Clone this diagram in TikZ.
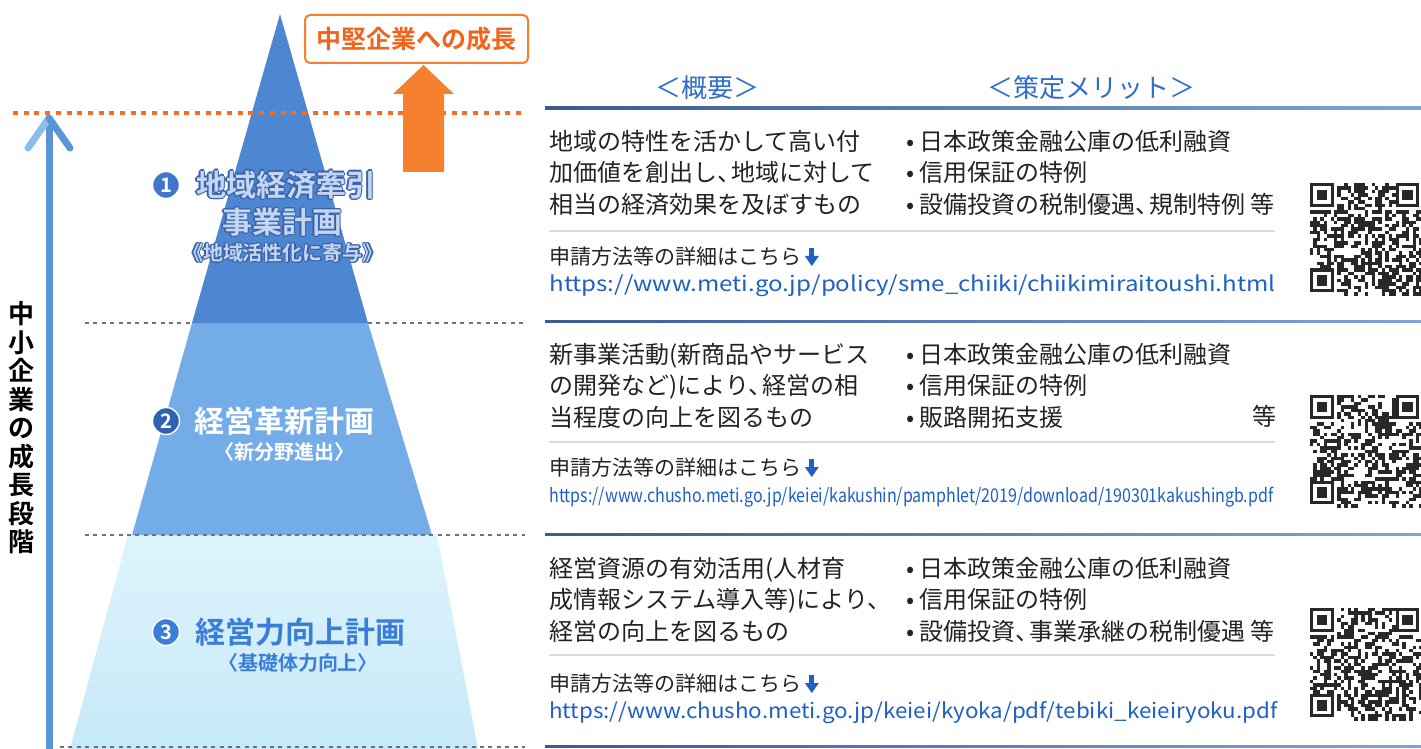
\documentclass[tikz,border=0pt]{standalone}
\usepackage{fontspec}
\usepackage{graphicx}
\setmainfont{Noto Sans CJK JP}[BoldFont={Noto Sans CJK JP Bold}]
\usetikzlibrary{calc}
\definecolor{topblue}{RGB}{77,135,210}
\definecolor{midblue}{RGB}{116,172,232}
\definecolor{lowblueA}{RGB}{222,244,252}
\definecolor{lowblueB}{RGB}{198,233,248}
\definecolor{orng}{RGB}{245,128,45}
\definecolor{orngtxt}{RGB}{240,100,30}
\definecolor{orngdot}{RGB}{240,110,40}
\definecolor{hdrblue}{RGB}{47,111,201}
\definecolor{urlblue}{RGB}{30,96,196}
\definecolor{txt}{RGB}{35,35,35}
\definecolor{lineL}{RGB}{60,90,150}
\definecolor{lineR}{RGB}{125,165,218}
\definecolor{lbl1}{RGB}{196,214,242}
\definecolor{outl}{RGB}{58,98,168}
\definecolor{lbl3}{RGB}{59,126,216}
\definecolor{axisblue}{RGB}{92,148,218}
\definecolor{axislight}{RGB}{140,188,232}
\definecolor{dotgray}{RGB}{105,115,125}
\definecolor{circA}{RGB}{63,120,203}
\definecolor{circB}{RGB}{47,98,176}
\definecolor{qrink}{RGB}{40,40,40}
\newcommand{\myqr}[3]{%
  \begin{scope}[shift={(#1,#2)}]
    \pgfmathsetseed{#3}
    \foreach \i in {0,...,32}{\foreach \j in {0,...,32}{%
      \pgfmathtruncatemacro{\qskip}{((\i<8)&&(\j<8)) || ((\i>24)&&(\j<8)) || ((\i<8)&&(\j>24))}%
      \pgfmathtruncatemacro{\qon}{rnd<0.5}%
      \ifnum\qskip=0 \ifnum\qon=1 \fill[qrink] (\i*3.42,\j*3.42) rectangle ++(3.42,3.42);\fi\fi
    }}
    \foreach \p/\q in {0/0,25/0,0/25}{%
      \fill[qrink] (\p*3.42,\q*3.42) rectangle ++(23.94,23.94);
      \fill[white] (\p*3.42+3.42,\q*3.42+3.42) rectangle ++(17.1,17.1);
      \fill[qrink] (\p*3.42+6.84,\q*3.42+6.84) rectangle ++(10.26,10.26);
    }
  \end{scope}}
\newcommand{\tc}{、\kern-5pt}
\newcommand{\bul}{•\kern2.5pt}
\begin{document}
\begin{tikzpicture}[x=0.5pt,y=-0.5pt,
  body/.style={anchor=west, align=left, inner sep=0, text=txt, font=\fontsize{12}{15.75}\selectfont},
  apply/.style={anchor=west, inner sep=0, text=txt, font=\fontsize{10.5}{12}\selectfont},
  url/.style={anchor=west, inner sep=0, text=urlblue},
  hdr/.style={inner sep=0, text=hdrblue, font=\fontsize{13}{15}\selectfont},
  seprule/.style={draw=gray!30, line width=0.8pt},
  band/.style={left color=lineL, right color=lineR},
  plabel/.style={inner sep=0, font=\bfseries\fontsize{15}{18}\selectfont},
  psub/.style={inner sep=0, font=\bfseries\fontsize{10}{12}\selectfont},
  numcirc/.style={circle, minimum size=13.5pt, inner sep=0, draw=white, line width=0.7pt, text=white, font=\bfseries\fontsize{10}{11}\selectfont},
  graydots/.style={draw=dotgray, line width=1pt, dash pattern=on 2pt off 2.2pt},
  orangedots/.style={draw=orngdot, line width=2pt, dash pattern=on 2.5pt off 2.85pt},
  axisline/.style={line width=3.5pt, line cap=round},
  dnarrow/.pic={\fill[urlblue] (-2.5,-9) rectangle (2.5,0); \fill[urlblue] (-7,-1) -- (7,-1) -- (0,9) -- cycle;}
]
\useasboundingbox (0,0) rectangle (1421,749);
\clip (0,0) rectangle (1421,749);
\fill[white] (0,0) rectangle (1421,749);

% ---------- pyramid ----------
\shade[top color=lowblueA, bottom color=lowblueB] (128,535) -- (437,535) -- (478,749) -- (70,749) -- cycle;
\fill[midblue] (192,323) -- (368,323) -- (432,535) -- (132,535) -- cycle;
\fill[topblue] (280,14) -- (368,323) -- (192,323) -- cycle;

% dotted level lines
\draw[graydots] (85,323) -- (192,323);
\draw[graydots] (368,323) -- (525,323);
\draw[graydots] (85,535) -- (525,535);
\draw[graydots] (60,747) -- (525,747);
\draw[orangedots] (13,113) -- (523,113);

% growth axis
\coordinate (axtop) at (49,118);
\coordinate (axbot) at (49,752);
\coordinate (axl) at (28,148);
\coordinate (axr) at (70,148);
\draw[axisblue, line width=3.5pt] (axtop) -- (axbot);
\draw[axislight, axisline] (axl) -- (axtop);
\draw[axisblue, axisline] (axtop) -- (axr);
\node[font=\bfseries\fontsize{13}{14.25}\selectfont, align=center, inner sep=0, text=black] (vlabel) at (22,428) {中\\小\\企\\業\\の\\成\\長\\段\\階};

% goal box and arrow
\node[draw=orng, fill=white, line width=1pt, rounded corners=2.5pt, minimum width=111.5pt, minimum height=24pt, text=orngtxt, font=\bfseries\fontsize{12.5}{14}\selectfont, inner sep=0] (goal) at (416.5,39) {中堅企業への成長};
\fill[orng] (403,172) -- (403,94) -- (393,94) -- (423.5,65) -- (454,94) -- (444,94) -- (444,172) -- cycle;

% pyramid labels
\node[numcirc, fill=circA] (n1) at (166,185) {1};
\foreach \dx/\dy [count=\k] in {1.3/0,-1.3/0,0/1.3,0/-1.3,0.9/0.9,-0.9/0.9,0.9/-0.9,-0.9/-0.9}{
  \node[plabel, text=outl] (o1a\k) at ($(286,185)+(\dx,\dy)$) {地域経済牽引};
  \node[plabel, text=outl] (o1b\k) at ($(282,222)+(\dx,\dy)$) {事業計画};
  \node[psub, text=outl] (o1c\k) at ($(283,253)+(\dx,\dy)$) {《地域活性化に寄与》};
}
\node[plabel, text=lbl1] (l1a) at (286,185) {地域経済牽引};
\node[plabel, text=lbl1] (l1b) at (282,222) {事業計画};
\node[psub, text=lbl1] (l1c) at (283,253) {《地域活性化に寄与》};

\node[numcirc, fill=circB] (n2) at (166,421) {2};
\node[plabel, text=white] (l2a) at (284,421) {経営革新計画};
\node[psub, text=white] (l2b) at (284,452) {〈新分野進出〉};

\node[numcirc, fill=lbl3] (n3) at (166,632) {3};
\node[plabel, text=lbl3] (l3a) at (300,632) {経営力向上計画};
\node[psub, text=lbl3] (l3b) at (298,663) {〈基礎体力向上〉};

% ---------- right panel ----------
\node[hdr] (h1) at (707,88) {＜概要＞};
\node[hdr] (h2) at (1091,88) {＜策定メリット＞};
\shade[band] (545,107) rectangle (1421,109.5);
\shade[band] (545,320) rectangle (1421,322.5);
\shade[band] (545,533) rectangle (1421,535.5);
\shade[band] (545,745) rectangle (1421,747.5);

% section 1
\node[body] (d1) at (549,172.5) {地域の特性を活かして高い付\\加価値を創出し\tc 地域に対して\\相当の経済効果を及ぼすもの};
\node[body] (m1) at (906,172.5) {\bul 日本政策金融公庫の低利融資\\\bul 信用保証の特例\\\bul 設備投資の税制優遇\tc 規制特例 等};
\draw[seprule] (549,231) -- (1275,231);
\node[apply] (a1) at (549,257) {申請方法等の詳細はこちら};
\pic at ($(a1.east)+(10,0)$) {dnarrow};
\node[url, font=\fontsize{10.5}{12}\selectfont] (u1) at (549,286) {\resizebox{363pt}{\height}{https://www.meti.go.jp/policy/sme\_chiiki/chiikimiraitoushi.html}};
\myqr{1310}{183}{11}

% section 2
\node[body] (d2) at (549,385.5) {新事業活動(新商品やサービス\\の開発など)により\tc 経営の相\\当程度の向上を図るもの};
\node[body] (m2) at (906,385.5) {\bul 日本政策金融公庫の低利融資\\\bul 信用保証の特例\\\bul 販路開拓支援};
\node[body, anchor=east] (e2) at (1277,416) {等};
\draw[seprule] (549,442) -- (1275,442);
\node[apply] (a2) at (549,468) {申請方法等の詳細はこちら};
\pic at ($(a2.east)+(10,0)$) {dnarrow};
\node[url, font=\fontsize{9.5}{11}\selectfont] (u2) at (549,497) {\resizebox{362pt}{\height}{https://www.chusho.meti.go.jp/keiei/kakushin/pamphlet/2019/download/190301kakushingb.pdf}};
\myqr{1310}{395}{23}

% section 3
\node[body] (d3) at (549,599.5) {経営資源の有効活用(人材育\\成情報システム導入等)により\tc\\経営の向上を図るもの};
\node[body] (m3) at (906,599.5) {\bul 日本政策金融公庫の低利融資\\\bul 信用保証の特例\\\bul 設備投資\tc 事業承継の税制優遇 等};
\draw[seprule] (549,655) -- (1275,655);
\node[apply] (a3) at (549,684) {申請方法等の詳細はこちら};
\pic at ($(a3.east)+(10,0)$) {dnarrow};
\node[url, font=\fontsize{10.5}{12}\selectfont] (u3) at (549,713) {\resizebox{364pt}{\height}{https://www.chusho.meti.go.jp/keiei/kyoka/pdf/tebiki\_keieiryoku.pdf}};
\myqr{1310}{608}{37}
\end{tikzpicture}
\end{document}
